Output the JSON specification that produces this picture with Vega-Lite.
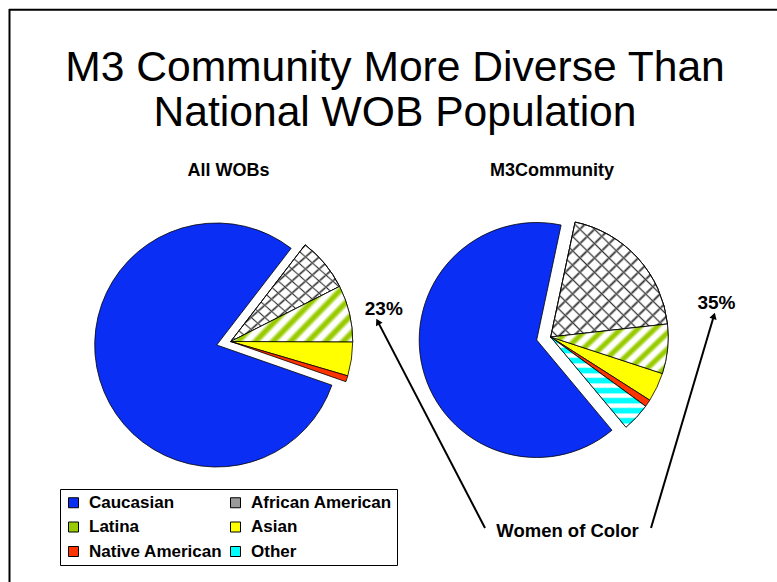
{
  "$schema": "https://vega.github.io/schema/vega-lite/v6.json",
  "width": 777,
  "height": 582,
  "autosize": "none",
  "padding": 0,
  "background": "white",
  "config": {"view": {"stroke": null}, "axis": {"disable": true}},
  "datasets": {
    "slices": [
      {"chart": "All WOBs", "category": "African American", "value": 7.1},
      {"chart": "All WOBs", "category": "Latina", "value": 7.5},
      {"chart": "All WOBs", "category": "Asian", "value": 4.5},
      {"chart": "All WOBs", "category": "Native American", "value": 0.8},
      {"chart": "All WOBs", "category": "Caucasian", "value": 80.1},
      {"chart": "M3Community", "category": "African American", "value": 19.9},
      {"chart": "M3Community", "category": "Latina", "value": 6.8},
      {"chart": "M3Community", "category": "Asian", "value": 4.0},
      {"chart": "M3Community", "category": "Native American", "value": 1.0},
      {"chart": "M3Community", "category": "Other", "value": 3.9},
      {"chart": "M3Community", "category": "Caucasian", "value": 64.4}
    ]
  },
  "data": {"name": "slices"},
  "resolve": {"scale": {"theta": "independent"}},
  "layer": [
    {
      "data": {"values": [{"part": "frame top"}]},
      "mark": {"type": "rule", "color": "black", "strokeWidth": 2},
      "encoding": {
        "x": {"datum": 0.1158, "type": "quantitative", "scale": {"domain": [0, 10], "nice": false, "zero": false}, "axis": null},
        "x2": {"datum": 10},
        "y": {"datum": 0.1263, "type": "quantitative", "scale": {"domain": [0, 7.5], "nice": false, "zero": false, "reverse": true}, "axis": null}
      }
    },
    {
      "data": {"values": [{"part": "frame left"}]},
      "mark": {"type": "rule", "color": "black", "strokeWidth": 2},
      "encoding": {
        "x": {"datum": 0.1223, "type": "quantitative", "axis": null},
        "y": {"datum": 0.116, "type": "quantitative", "axis": null},
        "y2": {"datum": 7.5}
      }
    },
    {
      "data": {"values": [{"text": "M3 Community More Diverse Than\nNational WOB Population"}]},
      "mark": {"type": "text", "font": "Liberation Sans", "fontSize": 42.6, "lineHeight": 45, "lineBreak": "\n", "align": "center", "baseline": "alphabetic", "color": "black"},
      "encoding": {
        "x": {"datum": 5.0837, "type": "quantitative", "axis": null},
        "y": {"datum": 1.0374, "type": "quantitative", "axis": null},
        "text": {"field": "text", "type": "nominal"}
      }
    },
    {
      "data": {"values": [{"text": "All WOBs"}]},
      "mark": {"type": "text", "font": "Liberation Sans", "fontSize": 18, "fontWeight": "bold", "align": "center", "baseline": "alphabetic", "color": "black"},
      "encoding": {
        "x": {"datum": 2.9408, "type": "quantitative", "axis": null},
        "y": {"datum": 2.268, "type": "quantitative", "axis": null},
        "text": {"field": "text", "type": "nominal"}
      }
    },
    {
      "data": {"values": [{"text": "M3Community"}]},
      "mark": {"type": "text", "font": "Liberation Sans", "fontSize": 18, "fontWeight": "bold", "align": "center", "baseline": "alphabetic", "color": "black"},
      "encoding": {
        "x": {"datum": 7.1042, "type": "quantitative", "axis": null},
        "y": {"datum": 2.268, "type": "quantitative", "axis": null},
        "text": {"field": "text", "type": "nominal"}
      }
    },
    {
      "transform": [
        {"stack": "value", "groupby": ["chart"], "as": ["start", "end"]},
        {"filter": "datum.chart === 'All WOBs' && datum.category === 'Caucasian'"}
      ],
      "mark": {"type": "arc", "radius": 122, "stroke": "black", "strokeWidth": 0.8},
      "encoding": {
        "x": {"datum": 2.789, "type": "quantitative", "axis": null},
        "y": {"datum": 4.4459, "type": "quantitative", "axis": null},
        "theta": {"field": "start", "type": "quantitative", "scale": {"domain": [0, 100], "range": [0.6562, 6.9394]}},
        "theta2": {"field": "end"},
        "color": {
          "field": "category", "type": "nominal",
          "scale": {
            "domain": ["Caucasian", "African American", "Latina", "Asian", "Native American", "Other"],
            "range": ["#0B2EF4", "#9A9A9A", "#99CC00", "#FFFF00", "#FF3300", "#00FFFF"]
          },
          "legend": {
            "title": null, "orient": "none", "legendX": 60, "legendY": 489, "columns": 2, "direction": "horizontal",
            "symbolType": "square", "symbolSize": 100, "symbolStrokeColor": "black", "symbolStrokeWidth": 1,
            "labelFont": "Liberation Sans", "labelFontSize": 17, "labelFontWeight": "bold", "labelColor": "black",
            "labelOffset": 7, "labelLimit": 400, "columnPadding": 4, "rowPadding": 6.5, "padding": 5,
            "strokeColor": "black"
          }
        }
      }
    },
    {
      "transform": [
        {"stack": "value", "groupby": ["chart"], "as": ["start", "end"]},
        {"filter": "datum.chart === 'All WOBs' && datum.category !== 'Caucasian'"}
      ],
      "mark": {"type": "arc", "radius": 122, "stroke": "black", "strokeWidth": 0.8, "xOffset": 14, "yOffset": -3.5},
      "encoding": {
        "x": {"datum": 2.789, "type": "quantitative", "axis": null},
        "y": {"datum": 4.4459, "type": "quantitative", "axis": null},
        "theta": {"field": "start", "type": "quantitative", "scale": {"domain": [0, 100], "range": [0.6562, 6.9394]}},
        "theta2": {"field": "end"},
        "color": {"field": "category", "type": "nominal"}
      }
    },
    {
      "transform": [
        {"stack": "value", "groupby": ["chart"], "as": ["start", "end"]},
        {"filter": "datum.chart === 'All WOBs' && datum.category === 'African American'"}
      ],
      "mark": {"type": "arc", "radius": 122, "stroke": "black", "strokeWidth": 0.8, "xOffset": 14, "yOffset": -3.5,
        "fill": {"gradient": "linear", "x1": 0, "y1": 0, "x2": 1, "y2": 1, "stops": [
          {"offset": 0, "color": "#ffffff"},
          {"offset": 0.02, "color": "#ffffff"}, {"offset": 0.03125, "color": "#333333"}, {"offset": 0.0425, "color": "#ffffff"},
          {"offset": 0.0825, "color": "#ffffff"}, {"offset": 0.09375, "color": "#333333"}, {"offset": 0.105, "color": "#ffffff"},
          {"offset": 0.145, "color": "#ffffff"}, {"offset": 0.15625, "color": "#333333"}, {"offset": 0.1675, "color": "#ffffff"},
          {"offset": 0.2075, "color": "#ffffff"}, {"offset": 0.21875, "color": "#333333"}, {"offset": 0.23, "color": "#ffffff"},
          {"offset": 0.27, "color": "#ffffff"}, {"offset": 0.28125, "color": "#333333"}, {"offset": 0.2925, "color": "#ffffff"},
          {"offset": 0.3325, "color": "#ffffff"}, {"offset": 0.34375, "color": "#333333"}, {"offset": 0.355, "color": "#ffffff"},
          {"offset": 0.395, "color": "#ffffff"}, {"offset": 0.40625, "color": "#333333"}, {"offset": 0.4175, "color": "#ffffff"},
          {"offset": 0.4575, "color": "#ffffff"}, {"offset": 0.46875, "color": "#333333"}, {"offset": 0.48, "color": "#ffffff"},
          {"offset": 0.52, "color": "#ffffff"}, {"offset": 0.53125, "color": "#333333"}, {"offset": 0.5425, "color": "#ffffff"},
          {"offset": 0.5825, "color": "#ffffff"}, {"offset": 0.59375, "color": "#333333"}, {"offset": 0.605, "color": "#ffffff"},
          {"offset": 0.645, "color": "#ffffff"}, {"offset": 0.65625, "color": "#333333"}, {"offset": 0.6675, "color": "#ffffff"},
          {"offset": 0.7075, "color": "#ffffff"}, {"offset": 0.71875, "color": "#333333"}, {"offset": 0.73, "color": "#ffffff"},
          {"offset": 0.77, "color": "#ffffff"}, {"offset": 0.78125, "color": "#333333"}, {"offset": 0.7925, "color": "#ffffff"},
          {"offset": 0.8325, "color": "#ffffff"}, {"offset": 0.84375, "color": "#333333"}, {"offset": 0.855, "color": "#ffffff"},
          {"offset": 0.895, "color": "#ffffff"}, {"offset": 0.90625, "color": "#333333"}, {"offset": 0.9175, "color": "#ffffff"},
          {"offset": 0.9575, "color": "#ffffff"}, {"offset": 0.96875, "color": "#333333"}, {"offset": 0.98, "color": "#ffffff"},
          {"offset": 1, "color": "#ffffff"}
        ]}
      },
      "encoding": {
        "x": {"datum": 2.789, "type": "quantitative", "axis": null},
        "y": {"datum": 4.4459, "type": "quantitative", "axis": null},
        "theta": {"field": "start", "type": "quantitative", "scale": {"domain": [0, 100], "range": [0.6562, 6.9394]}},
        "theta2": {"field": "end"}
      }
    },
    {
      "transform": [
        {"stack": "value", "groupby": ["chart"], "as": ["start", "end"]},
        {"filter": "datum.chart === 'All WOBs' && datum.category === 'African American'"}
      ],
      "mark": {"type": "arc", "radius": 122, "stroke": "black", "strokeWidth": 0.8, "xOffset": 14, "yOffset": -3.5,
        "fill": {"gradient": "linear", "x1": 0, "y1": 1, "x2": 1, "y2": 0, "stops": [
          {"offset": 0, "color": "rgba(255,255,255,0)"},
          {"offset": 0.02, "color": "rgba(255,255,255,0)"}, {"offset": 0.03125, "color": "#333333"}, {"offset": 0.0425, "color": "rgba(255,255,255,0)"},
          {"offset": 0.0825, "color": "rgba(255,255,255,0)"}, {"offset": 0.09375, "color": "#333333"}, {"offset": 0.105, "color": "rgba(255,255,255,0)"},
          {"offset": 0.145, "color": "rgba(255,255,255,0)"}, {"offset": 0.15625, "color": "#333333"}, {"offset": 0.1675, "color": "rgba(255,255,255,0)"},
          {"offset": 0.2075, "color": "rgba(255,255,255,0)"}, {"offset": 0.21875, "color": "#333333"}, {"offset": 0.23, "color": "rgba(255,255,255,0)"},
          {"offset": 0.27, "color": "rgba(255,255,255,0)"}, {"offset": 0.28125, "color": "#333333"}, {"offset": 0.2925, "color": "rgba(255,255,255,0)"},
          {"offset": 0.3325, "color": "rgba(255,255,255,0)"}, {"offset": 0.34375, "color": "#333333"}, {"offset": 0.355, "color": "rgba(255,255,255,0)"},
          {"offset": 0.395, "color": "rgba(255,255,255,0)"}, {"offset": 0.40625, "color": "#333333"}, {"offset": 0.4175, "color": "rgba(255,255,255,0)"},
          {"offset": 0.4575, "color": "rgba(255,255,255,0)"}, {"offset": 0.46875, "color": "#333333"}, {"offset": 0.48, "color": "rgba(255,255,255,0)"},
          {"offset": 0.52, "color": "rgba(255,255,255,0)"}, {"offset": 0.53125, "color": "#333333"}, {"offset": 0.5425, "color": "rgba(255,255,255,0)"},
          {"offset": 0.5825, "color": "rgba(255,255,255,0)"}, {"offset": 0.59375, "color": "#333333"}, {"offset": 0.605, "color": "rgba(255,255,255,0)"},
          {"offset": 0.645, "color": "rgba(255,255,255,0)"}, {"offset": 0.65625, "color": "#333333"}, {"offset": 0.6675, "color": "rgba(255,255,255,0)"},
          {"offset": 0.7075, "color": "rgba(255,255,255,0)"}, {"offset": 0.71875, "color": "#333333"}, {"offset": 0.73, "color": "rgba(255,255,255,0)"},
          {"offset": 0.77, "color": "rgba(255,255,255,0)"}, {"offset": 0.78125, "color": "#333333"}, {"offset": 0.7925, "color": "rgba(255,255,255,0)"},
          {"offset": 0.8325, "color": "rgba(255,255,255,0)"}, {"offset": 0.84375, "color": "#333333"}, {"offset": 0.855, "color": "rgba(255,255,255,0)"},
          {"offset": 0.895, "color": "rgba(255,255,255,0)"}, {"offset": 0.90625, "color": "#333333"}, {"offset": 0.9175, "color": "rgba(255,255,255,0)"},
          {"offset": 0.9575, "color": "rgba(255,255,255,0)"}, {"offset": 0.96875, "color": "#333333"}, {"offset": 0.98, "color": "rgba(255,255,255,0)"},
          {"offset": 1, "color": "rgba(255,255,255,0)"}
        ]}
      },
      "encoding": {
        "x": {"datum": 2.789, "type": "quantitative", "axis": null},
        "y": {"datum": 4.4459, "type": "quantitative", "axis": null},
        "theta": {"field": "start", "type": "quantitative", "scale": {"domain": [0, 100], "range": [0.6562, 6.9394]}},
        "theta2": {"field": "end"}
      }
    },
    {
      "transform": [
        {"stack": "value", "groupby": ["chart"], "as": ["start", "end"]},
        {"filter": "datum.chart === 'All WOBs' && datum.category === 'Latina'"}
      ],
      "mark": {"type": "arc", "radius": 122, "stroke": "black", "strokeWidth": 0.8, "xOffset": 14, "yOffset": -3.5,
        "fill": {"gradient": "linear", "x1": 0, "y1": 0, "x2": 1.206, "y2": 0.531, "stops": [
          {"offset": 0, "color": "#ffffff"},
          {"offset": 0.01, "color": "#ffffff"}, {"offset": 0.035, "color": "#99CC00"}, {"offset": 0.055, "color": "#99CC00"}, {"offset": 0.08, "color": "#ffffff"},
          {"offset": 0.11, "color": "#ffffff"}, {"offset": 0.135, "color": "#99CC00"}, {"offset": 0.155, "color": "#99CC00"}, {"offset": 0.18, "color": "#ffffff"},
          {"offset": 0.21, "color": "#ffffff"}, {"offset": 0.235, "color": "#99CC00"}, {"offset": 0.255, "color": "#99CC00"}, {"offset": 0.28, "color": "#ffffff"},
          {"offset": 0.31, "color": "#ffffff"}, {"offset": 0.335, "color": "#99CC00"}, {"offset": 0.355, "color": "#99CC00"}, {"offset": 0.38, "color": "#ffffff"},
          {"offset": 0.41, "color": "#ffffff"}, {"offset": 0.435, "color": "#99CC00"}, {"offset": 0.455, "color": "#99CC00"}, {"offset": 0.48, "color": "#ffffff"},
          {"offset": 0.51, "color": "#ffffff"}, {"offset": 0.535, "color": "#99CC00"}, {"offset": 0.555, "color": "#99CC00"}, {"offset": 0.58, "color": "#ffffff"},
          {"offset": 0.61, "color": "#ffffff"}, {"offset": 0.635, "color": "#99CC00"}, {"offset": 0.655, "color": "#99CC00"}, {"offset": 0.68, "color": "#ffffff"},
          {"offset": 0.71, "color": "#ffffff"}, {"offset": 0.735, "color": "#99CC00"}, {"offset": 0.755, "color": "#99CC00"}, {"offset": 0.78, "color": "#ffffff"},
          {"offset": 0.81, "color": "#ffffff"}, {"offset": 0.835, "color": "#99CC00"}, {"offset": 0.855, "color": "#99CC00"}, {"offset": 0.88, "color": "#ffffff"},
          {"offset": 0.91, "color": "#ffffff"}, {"offset": 0.935, "color": "#99CC00"}, {"offset": 0.955, "color": "#99CC00"}, {"offset": 0.98, "color": "#ffffff"},
          {"offset": 1, "color": "#ffffff"}
        ]}
      },
      "encoding": {
        "x": {"datum": 2.789, "type": "quantitative", "axis": null},
        "y": {"datum": 4.4459, "type": "quantitative", "axis": null},
        "theta": {"field": "start", "type": "quantitative", "scale": {"domain": [0, 100], "range": [0.6562, 6.9394]}},
        "theta2": {"field": "end"}
      }
    },
    {
      "transform": [
        {"stack": "value", "groupby": ["chart"], "as": ["start", "end"]},
        {"filter": "datum.chart === 'M3Community' && datum.category === 'Caucasian'"}
      ],
      "mark": {"type": "arc", "radius": 117.5, "stroke": "black", "strokeWidth": 0.8},
      "encoding": {
        "x": {"datum": 6.9073, "type": "quantitative", "axis": null},
        "y": {"datum": 4.3814, "type": "quantitative", "axis": null},
        "theta": {"field": "start", "type": "quantitative", "scale": {"domain": [0, 100], "range": [0.2094, 6.4926]}},
        "theta2": {"field": "end"},
        "color": {"field": "category", "type": "nominal"}
      }
    },
    {
      "transform": [
        {"stack": "value", "groupby": ["chart"], "as": ["start", "end"]},
        {"filter": "datum.chart === 'M3Community' && datum.category !== 'Caucasian'"}
      ],
      "mark": {"type": "arc", "radius": 117.5, "stroke": "black", "strokeWidth": 0.8, "xOffset": 14, "yOffset": -3},
      "encoding": {
        "x": {"datum": 6.9073, "type": "quantitative", "axis": null},
        "y": {"datum": 4.3814, "type": "quantitative", "axis": null},
        "theta": {"field": "start", "type": "quantitative", "scale": {"domain": [0, 100], "range": [0.2094, 6.4926]}},
        "theta2": {"field": "end"},
        "color": {"field": "category", "type": "nominal"}
      }
    },
    {
      "transform": [
        {"stack": "value", "groupby": ["chart"], "as": ["start", "end"]},
        {"filter": "datum.chart === 'M3Community' && datum.category === 'African American'"}
      ],
      "mark": {"type": "arc", "radius": 117.5, "stroke": "black", "strokeWidth": 0.8, "xOffset": 14, "yOffset": -3,
        "fill": {"gradient": "linear", "x1": 0, "y1": 0, "x2": 1, "y2": 1, "stops": [
          {"offset": 0, "color": "#ffffff"},
          {"offset": 0.02, "color": "#ffffff"}, {"offset": 0.03125, "color": "#333333"}, {"offset": 0.0425, "color": "#ffffff"},
          {"offset": 0.0825, "color": "#ffffff"}, {"offset": 0.09375, "color": "#333333"}, {"offset": 0.105, "color": "#ffffff"},
          {"offset": 0.145, "color": "#ffffff"}, {"offset": 0.15625, "color": "#333333"}, {"offset": 0.1675, "color": "#ffffff"},
          {"offset": 0.2075, "color": "#ffffff"}, {"offset": 0.21875, "color": "#333333"}, {"offset": 0.23, "color": "#ffffff"},
          {"offset": 0.27, "color": "#ffffff"}, {"offset": 0.28125, "color": "#333333"}, {"offset": 0.2925, "color": "#ffffff"},
          {"offset": 0.3325, "color": "#ffffff"}, {"offset": 0.34375, "color": "#333333"}, {"offset": 0.355, "color": "#ffffff"},
          {"offset": 0.395, "color": "#ffffff"}, {"offset": 0.40625, "color": "#333333"}, {"offset": 0.4175, "color": "#ffffff"},
          {"offset": 0.4575, "color": "#ffffff"}, {"offset": 0.46875, "color": "#333333"}, {"offset": 0.48, "color": "#ffffff"},
          {"offset": 0.52, "color": "#ffffff"}, {"offset": 0.53125, "color": "#333333"}, {"offset": 0.5425, "color": "#ffffff"},
          {"offset": 0.5825, "color": "#ffffff"}, {"offset": 0.59375, "color": "#333333"}, {"offset": 0.605, "color": "#ffffff"},
          {"offset": 0.645, "color": "#ffffff"}, {"offset": 0.65625, "color": "#333333"}, {"offset": 0.6675, "color": "#ffffff"},
          {"offset": 0.7075, "color": "#ffffff"}, {"offset": 0.71875, "color": "#333333"}, {"offset": 0.73, "color": "#ffffff"},
          {"offset": 0.77, "color": "#ffffff"}, {"offset": 0.78125, "color": "#333333"}, {"offset": 0.7925, "color": "#ffffff"},
          {"offset": 0.8325, "color": "#ffffff"}, {"offset": 0.84375, "color": "#333333"}, {"offset": 0.855, "color": "#ffffff"},
          {"offset": 0.895, "color": "#ffffff"}, {"offset": 0.90625, "color": "#333333"}, {"offset": 0.9175, "color": "#ffffff"},
          {"offset": 0.9575, "color": "#ffffff"}, {"offset": 0.96875, "color": "#333333"}, {"offset": 0.98, "color": "#ffffff"},
          {"offset": 1, "color": "#ffffff"}
        ]}
      },
      "encoding": {
        "x": {"datum": 6.9073, "type": "quantitative", "axis": null},
        "y": {"datum": 4.3814, "type": "quantitative", "axis": null},
        "theta": {"field": "start", "type": "quantitative", "scale": {"domain": [0, 100], "range": [0.2094, 6.4926]}},
        "theta2": {"field": "end"}
      }
    },
    {
      "transform": [
        {"stack": "value", "groupby": ["chart"], "as": ["start", "end"]},
        {"filter": "datum.chart === 'M3Community' && datum.category === 'African American'"}
      ],
      "mark": {"type": "arc", "radius": 117.5, "stroke": "black", "strokeWidth": 0.8, "xOffset": 14, "yOffset": -3,
        "fill": {"gradient": "linear", "x1": 0, "y1": 1, "x2": 1, "y2": 0, "stops": [
          {"offset": 0, "color": "rgba(255,255,255,0)"},
          {"offset": 0.02, "color": "rgba(255,255,255,0)"}, {"offset": 0.03125, "color": "#333333"}, {"offset": 0.0425, "color": "rgba(255,255,255,0)"},
          {"offset": 0.0825, "color": "rgba(255,255,255,0)"}, {"offset": 0.09375, "color": "#333333"}, {"offset": 0.105, "color": "rgba(255,255,255,0)"},
          {"offset": 0.145, "color": "rgba(255,255,255,0)"}, {"offset": 0.15625, "color": "#333333"}, {"offset": 0.1675, "color": "rgba(255,255,255,0)"},
          {"offset": 0.2075, "color": "rgba(255,255,255,0)"}, {"offset": 0.21875, "color": "#333333"}, {"offset": 0.23, "color": "rgba(255,255,255,0)"},
          {"offset": 0.27, "color": "rgba(255,255,255,0)"}, {"offset": 0.28125, "color": "#333333"}, {"offset": 0.2925, "color": "rgba(255,255,255,0)"},
          {"offset": 0.3325, "color": "rgba(255,255,255,0)"}, {"offset": 0.34375, "color": "#333333"}, {"offset": 0.355, "color": "rgba(255,255,255,0)"},
          {"offset": 0.395, "color": "rgba(255,255,255,0)"}, {"offset": 0.40625, "color": "#333333"}, {"offset": 0.4175, "color": "rgba(255,255,255,0)"},
          {"offset": 0.4575, "color": "rgba(255,255,255,0)"}, {"offset": 0.46875, "color": "#333333"}, {"offset": 0.48, "color": "rgba(255,255,255,0)"},
          {"offset": 0.52, "color": "rgba(255,255,255,0)"}, {"offset": 0.53125, "color": "#333333"}, {"offset": 0.5425, "color": "rgba(255,255,255,0)"},
          {"offset": 0.5825, "color": "rgba(255,255,255,0)"}, {"offset": 0.59375, "color": "#333333"}, {"offset": 0.605, "color": "rgba(255,255,255,0)"},
          {"offset": 0.645, "color": "rgba(255,255,255,0)"}, {"offset": 0.65625, "color": "#333333"}, {"offset": 0.6675, "color": "rgba(255,255,255,0)"},
          {"offset": 0.7075, "color": "rgba(255,255,255,0)"}, {"offset": 0.71875, "color": "#333333"}, {"offset": 0.73, "color": "rgba(255,255,255,0)"},
          {"offset": 0.77, "color": "rgba(255,255,255,0)"}, {"offset": 0.78125, "color": "#333333"}, {"offset": 0.7925, "color": "rgba(255,255,255,0)"},
          {"offset": 0.8325, "color": "rgba(255,255,255,0)"}, {"offset": 0.84375, "color": "#333333"}, {"offset": 0.855, "color": "rgba(255,255,255,0)"},
          {"offset": 0.895, "color": "rgba(255,255,255,0)"}, {"offset": 0.90625, "color": "#333333"}, {"offset": 0.9175, "color": "rgba(255,255,255,0)"},
          {"offset": 0.9575, "color": "rgba(255,255,255,0)"}, {"offset": 0.96875, "color": "#333333"}, {"offset": 0.98, "color": "rgba(255,255,255,0)"},
          {"offset": 1, "color": "rgba(255,255,255,0)"}
        ]}
      },
      "encoding": {
        "x": {"datum": 6.9073, "type": "quantitative", "axis": null},
        "y": {"datum": 4.3814, "type": "quantitative", "axis": null},
        "theta": {"field": "start", "type": "quantitative", "scale": {"domain": [0, 100], "range": [0.2094, 6.4926]}},
        "theta2": {"field": "end"}
      }
    },
    {
      "transform": [
        {"stack": "value", "groupby": ["chart"], "as": ["start", "end"]},
        {"filter": "datum.chart === 'M3Community' && datum.category === 'Latina'"}
      ],
      "mark": {"type": "arc", "radius": 117.5, "stroke": "black", "strokeWidth": 0.8, "xOffset": 14, "yOffset": -3,
        "fill": {"gradient": "linear", "x1": 0, "y1": 0, "x2": 1.206, "y2": 0.531, "stops": [
          {"offset": 0, "color": "#ffffff"},
          {"offset": 0.01, "color": "#ffffff"}, {"offset": 0.035, "color": "#99CC00"}, {"offset": 0.055, "color": "#99CC00"}, {"offset": 0.08, "color": "#ffffff"},
          {"offset": 0.11, "color": "#ffffff"}, {"offset": 0.135, "color": "#99CC00"}, {"offset": 0.155, "color": "#99CC00"}, {"offset": 0.18, "color": "#ffffff"},
          {"offset": 0.21, "color": "#ffffff"}, {"offset": 0.235, "color": "#99CC00"}, {"offset": 0.255, "color": "#99CC00"}, {"offset": 0.28, "color": "#ffffff"},
          {"offset": 0.31, "color": "#ffffff"}, {"offset": 0.335, "color": "#99CC00"}, {"offset": 0.355, "color": "#99CC00"}, {"offset": 0.38, "color": "#ffffff"},
          {"offset": 0.41, "color": "#ffffff"}, {"offset": 0.435, "color": "#99CC00"}, {"offset": 0.455, "color": "#99CC00"}, {"offset": 0.48, "color": "#ffffff"},
          {"offset": 0.51, "color": "#ffffff"}, {"offset": 0.535, "color": "#99CC00"}, {"offset": 0.555, "color": "#99CC00"}, {"offset": 0.58, "color": "#ffffff"},
          {"offset": 0.61, "color": "#ffffff"}, {"offset": 0.635, "color": "#99CC00"}, {"offset": 0.655, "color": "#99CC00"}, {"offset": 0.68, "color": "#ffffff"},
          {"offset": 0.71, "color": "#ffffff"}, {"offset": 0.735, "color": "#99CC00"}, {"offset": 0.755, "color": "#99CC00"}, {"offset": 0.78, "color": "#ffffff"},
          {"offset": 0.81, "color": "#ffffff"}, {"offset": 0.835, "color": "#99CC00"}, {"offset": 0.855, "color": "#99CC00"}, {"offset": 0.88, "color": "#ffffff"},
          {"offset": 0.91, "color": "#ffffff"}, {"offset": 0.935, "color": "#99CC00"}, {"offset": 0.955, "color": "#99CC00"}, {"offset": 0.98, "color": "#ffffff"},
          {"offset": 1, "color": "#ffffff"}
        ]}
      },
      "encoding": {
        "x": {"datum": 6.9073, "type": "quantitative", "axis": null},
        "y": {"datum": 4.3814, "type": "quantitative", "axis": null},
        "theta": {"field": "start", "type": "quantitative", "scale": {"domain": [0, 100], "range": [0.2094, 6.4926]}},
        "theta2": {"field": "end"}
      }
    },
    {
      "transform": [
        {"stack": "value", "groupby": ["chart"], "as": ["start", "end"]},
        {"filter": "datum.chart === 'M3Community' && datum.category === 'Other'"}
      ],
      "mark": {"type": "arc", "radius": 117.5, "stroke": "black", "strokeWidth": 0.8, "xOffset": 14, "yOffset": -3,
        "fill": {"gradient": "linear", "x1": 0, "y1": 0, "x2": 0, "y2": 1, "stops": [
          {"offset": 0, "color": "#ffffff"}, {"offset": 0.0167, "color": "#00FFFF"}, {"offset": 0.0611, "color": "#00FFFF"}, {"offset": 0.0778, "color": "#ffffff"},
          {"offset": 0.1111, "color": "#ffffff"}, {"offset": 0.1278, "color": "#00FFFF"}, {"offset": 0.1722, "color": "#00FFFF"}, {"offset": 0.1889, "color": "#ffffff"},
          {"offset": 0.2222, "color": "#ffffff"}, {"offset": 0.2389, "color": "#00FFFF"}, {"offset": 0.2833, "color": "#00FFFF"}, {"offset": 0.3, "color": "#ffffff"},
          {"offset": 0.3333, "color": "#ffffff"}, {"offset": 0.35, "color": "#00FFFF"}, {"offset": 0.3944, "color": "#00FFFF"}, {"offset": 0.4111, "color": "#ffffff"},
          {"offset": 0.4444, "color": "#ffffff"}, {"offset": 0.4611, "color": "#00FFFF"}, {"offset": 0.5056, "color": "#00FFFF"}, {"offset": 0.5222, "color": "#ffffff"},
          {"offset": 0.5556, "color": "#ffffff"}, {"offset": 0.5722, "color": "#00FFFF"}, {"offset": 0.6167, "color": "#00FFFF"}, {"offset": 0.6333, "color": "#ffffff"},
          {"offset": 0.6667, "color": "#ffffff"}, {"offset": 0.6833, "color": "#00FFFF"}, {"offset": 0.7278, "color": "#00FFFF"}, {"offset": 0.7444, "color": "#ffffff"},
          {"offset": 0.7778, "color": "#ffffff"}, {"offset": 0.7944, "color": "#00FFFF"}, {"offset": 0.8389, "color": "#00FFFF"}, {"offset": 0.8556, "color": "#ffffff"},
          {"offset": 0.8889, "color": "#ffffff"}, {"offset": 0.9056, "color": "#00FFFF"}, {"offset": 0.95, "color": "#00FFFF"}, {"offset": 0.9667, "color": "#ffffff"},
          {"offset": 1, "color": "#ffffff"}
        ]}
      },
      "encoding": {
        "x": {"datum": 6.9073, "type": "quantitative", "axis": null},
        "y": {"datum": 4.3814, "type": "quantitative", "axis": null},
        "theta": {"field": "start", "type": "quantitative", "scale": {"domain": [0, 100], "range": [0.2094, 6.4926]}},
        "theta2": {"field": "end"}
      }
    },
    {
      "data": {"values": [{"text": "23%"}]},
      "mark": {"type": "text", "font": "Liberation Sans", "fontSize": 19, "fontWeight": "bold", "align": "center", "baseline": "alphabetic", "color": "black"},
      "encoding": {
        "x": {"datum": 4.9395, "type": "quantitative", "axis": null},
        "y": {"datum": 4.0593, "type": "quantitative", "axis": null},
        "text": {"field": "text", "type": "nominal"}
      }
    },
    {
      "data": {"values": [{"text": "35%"}]},
      "mark": {"type": "text", "font": "Liberation Sans", "fontSize": 19, "fontWeight": "bold", "align": "center", "baseline": "alphabetic", "color": "black"},
      "encoding": {
        "x": {"datum": 9.2214, "type": "quantitative", "axis": null},
        "y": {"datum": 3.982, "type": "quantitative", "axis": null},
        "text": {"field": "text", "type": "nominal"}
      }
    },
    {
      "data": {"values": [{"text": "Women of Color"}]},
      "mark": {"type": "text", "font": "Liberation Sans", "fontSize": 18.5, "fontWeight": "bold", "align": "center", "baseline": "alphabetic", "color": "black"},
      "encoding": {
        "x": {"datum": 7.3038, "type": "quantitative", "axis": null},
        "y": {"datum": 6.9201, "type": "quantitative", "axis": null},
        "text": {"field": "text", "type": "nominal"}
      }
    },
    {
      "data": {"values": [{"arrow": "to 23%"}]},
      "mark": {"type": "rule", "color": "black", "strokeWidth": 2},
      "encoding": {
        "x": {"datum": 6.242, "type": "quantitative", "axis": null},
        "y": {"datum": 6.8041, "type": "quantitative", "axis": null},
        "x2": {"datum": 4.8623},
        "y2": {"datum": 4.1443}
      }
    },
    {
      "data": {"values": [{"arrow": "to 35%"}]},
      "mark": {"type": "rule", "color": "black", "strokeWidth": 2},
      "encoding": {
        "x": {"datum": 8.3784, "type": "quantitative", "axis": null},
        "y": {"datum": 6.8041, "type": "quantitative", "axis": null},
        "x2": {"datum": 9.1879},
        "y2": {"datum": 4.0696}
      }
    },
    {
      "data": {"values": [{"arrow": "head 23%"}]},
      "mark": {"type": "point", "shape": "triangle-up", "filled": true, "color": "black", "size": 55, "angle": 332.6, "opacity": 1},
      "encoding": {
        "x": {"datum": 4.8623, "type": "quantitative", "axis": null},
        "y": {"datum": 4.1443, "type": "quantitative", "axis": null}
      }
    },
    {
      "data": {"values": [{"arrow": "head 35%"}]},
      "mark": {"type": "point", "shape": "triangle-up", "filled": true, "color": "black", "size": 55, "angle": 16.5, "opacity": 1},
      "encoding": {
        "x": {"datum": 9.1879, "type": "quantitative", "axis": null},
        "y": {"datum": 4.0696, "type": "quantitative", "axis": null}
      }
    }
  ]
}
